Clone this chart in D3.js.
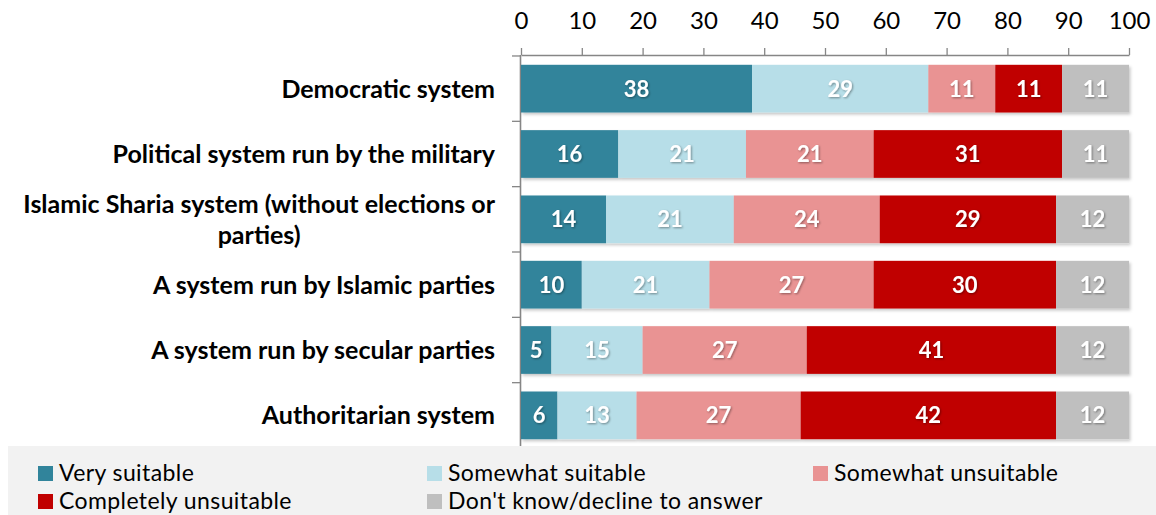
<!DOCTYPE html>
<html>
<head>
<meta charset="utf-8">
<script src="https://cdn.jsdelivr.net/npm/d3@7"></script>
<style>
  html, body { margin: 0; padding: 0; background: #ffffff; }
  svg { display: block; font-family: Lato, "Open Sans", sans-serif; }
</style>
</head>
<body>
<svg id="chart" width="1156" height="515"></svg>
<script>
// Survey items (top to bottom)
const categories = [
  "Democratic system",
  "Political system run by the military",
  "Islamic Sharia system (without elections or|parties)",
  "A system run by Islamic parties",
  "A system run by secular parties",
  "Authoritarian system"
];

// Response series (percent)
const seriesNames = [
  "Very suitable",
  "Somewhat suitable",
  "Somewhat unsuitable",
  "Completely unsuitable",
  "Don't know/decline to answer"
];
const verySuitable         = [38, 16, 14, 10, 5, 6];
const somewhatSuitable     = [29, 21, 21, 21, 15, 13];
const somewhatUnsuitable   = [11, 21, 24, 27, 27, 27];
const completelyUnsuitable = [11, 31, 29, 30, 41, 42];
const dontKnow             = [11, 11, 12, 12, 12, 12];
const seriesColors = ["#31849b", "#b7dee8", "#e99393", "#c00000", "#bfbfbf"];

const xTicks = [0, 10, 20, 30, 40, 50, 60, 70, 80, 90, 100];

const seriesValues = [verySuitable, somewhatSuitable, somewhatUnsuitable, completelyUnsuitable, dontKnow];

const svg = d3.select("#chart");
const defs = svg.append("defs");
const shadow = defs.append("filter").attr("id", "barShadow")
  .attr("x", "-5%").attr("y", "-20%").attr("width", "110%").attr("height", "150%");
shadow.append("feDropShadow").attr("dx", 1.5).attr("dy", 2).attr("stdDeviation", 1.8)
  .attr("flood-color", "#000").attr("flood-opacity", 0.22);
const textShadow = defs.append("filter").attr("id", "textShadow")
  .attr("x", "-20%").attr("y", "-20%").attr("width", "140%").attr("height", "150%");
textShadow.append("feDropShadow").attr("dx", 1).attr("dy", 1).attr("stdDeviation", 0.8)
  .attr("flood-color", "#000").attr("flood-opacity", 0.4);

const plotLeft = 521, plotRight = 1129, plotTop = 55, plotBottom = 449;
const axisColor = "#868686";

const x = d3.scaleLinear().domain([0, 100]).range([plotLeft, plotRight]);
const y = d3.scaleBand().domain(d3.range(categories.length)).range([plotTop, plotBottom])
  .paddingInner(0.27).paddingOuter(0.15);

// Top value axis
const xAxis = svg.append("g").attr("transform", `translate(0,${plotTop})`)
  .call(d3.axisTop(x).tickValues(xTicks).tickSize(7).tickSizeOuter(0).tickPadding(19));
xAxis.select(".domain").attr("stroke", axisColor).attr("stroke-width", 1.3);
xAxis.selectAll(".tick line").attr("stroke", axisColor).attr("stroke-width", 1.3);
xAxis.selectAll(".tick text").attr("fill", "#000").attr("font-size", 24)
  .attr("font-family", "Lato, sans-serif");

// Category axis line with tick marks at band boundaries
const step = y.step();
const sepOffset = y.paddingOuter() * step - y.paddingInner() * step / 2;
const catAxis = svg.append("g");
catAxis.append("line").attr("x1", plotLeft - 0.5).attr("x2", plotLeft - 0.5)
  .attr("y1", plotTop).attr("y2", plotBottom).attr("stroke", axisColor).attr("stroke-width", 1.6);
catAxis.selectAll("line.sep").data(d3.range(0, categories.length + 1)).join("line")
  .attr("class", "sep")
  .attr("x1", plotLeft - 9).attr("x2", plotLeft)
  .attr("y1", i => plotTop + sepOffset + i * step)
  .attr("y2", i => plotTop + sepOffset + i * step)
  .attr("stroke", axisColor).attr("stroke-width", 1.3);

// Stacked bars
const rows = categories.map((c, i) => {
  let acc = 0;
  return seriesValues.map((vals, s) => {
    const seg = { row: i, s, v: vals[i], x0: acc, x1: acc + vals[i] };
    acc += vals[i];
    return seg;
  });
});

const barG = svg.append("g").attr("filter", "url(#barShadow)");
rows.forEach(segs => {
  barG.selectAll(null).data(segs).join("rect")
    .attr("x", d => x(d.x0))
    .attr("y", d => y(d.row))
    .attr("width", d => x(d.x1) - x(d.x0))
    .attr("height", y.bandwidth())
    .attr("fill", d => seriesColors[d.s]);
});

const labelG = svg.append("g").attr("filter", "url(#textShadow)");
rows.forEach(segs => {
  labelG.selectAll(null).data(segs).join("text")
    .attr("x", d => (x(d.x0) + x(d.x1)) / 2)
    .attr("y", d => y(d.row) + y.bandwidth() / 2)
    .attr("dy", "0.36em")
    .attr("text-anchor", "middle")
    .attr("fill", "#fff")
    .attr("font-weight", "bold")
    .attr("font-size", 22)
    .text(d => d.v);
});

// Category labels (multi-line labels are centered within their block)
const catG = svg.append("g");
const labelRight = 495;
categories.forEach((c, i) => {
  const lines = c.split("|");
  const cy = y(i) + y.bandwidth() / 2;
  const lh = 31;
  const t = catG.append("text")
    .attr("font-weight", "bold").attr("font-size", 25).attr("fill", "#000");
  const spans = lines.map((ln, k) => t.append("tspan")
    .attr("y", cy + (k - (lines.length - 1) / 2) * lh)
    .attr("dy", "0.36em").text(ln));
  if (lines.length === 1) {
    spans[0].attr("x", labelRight).attr("text-anchor", "end");
  } else {
    const maxW = d3.max(spans.map(sp => sp.node().getComputedTextLength()));
    spans.forEach(sp => sp.attr("x", labelRight - maxW / 2).attr("text-anchor", "middle"));
  }
});

// Legend panel
const legend = svg.append("g");
legend.append("rect").attr("x", 8).attr("y", 446).attr("width", 1160).attr("height", 80)
  .attr("fill", "#f2f2f2");
const legPos = [[38, 473], [427, 473], [813, 473], [38, 501], [427, 501]];
const items = legend.selectAll("g.item").data(seriesNames).join("g")
  .attr("class", "item")
  .attr("transform", (d, i) => `translate(${legPos[i][0]},${legPos[i][1]})`);
items.append("rect").attr("x", 0).attr("y", -7).attr("width", 15).attr("height", 15)
  .attr("fill", (d, i) => seriesColors[i]);
items.append("text").attr("x", 21).attr("dy", "0.36em")
  .attr("font-size", 23).attr("letter-spacing", 0.4).attr("fill", "#000").text(d => d);
</script>
</body>
</html>
